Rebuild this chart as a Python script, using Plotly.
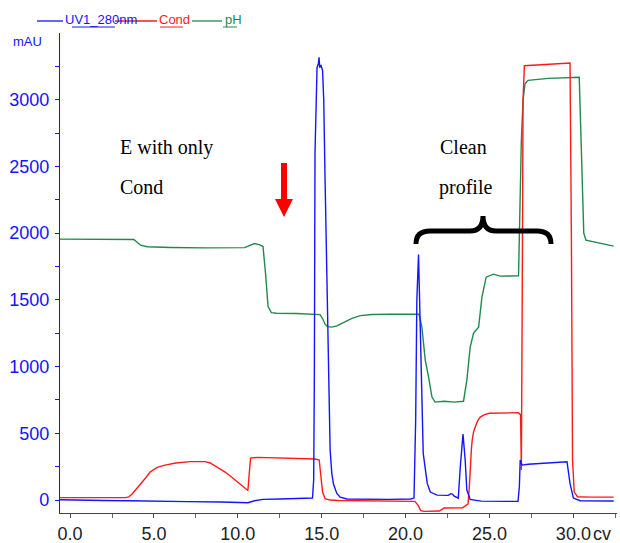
import plotly.graph_objects as go

# Column volumes (cv) and detector readings, one pair of lists per trace
uv_cv = [-0.6, 0.0, 2.0, 3.5, 5.0, 7.0, 9.0, 10.0, 10.6, 11.0, 11.5, 12.5, 13.5, 14.2,
         14.45, 14.52, 14.56, 14.60, 14.66, 14.72, 14.80, 14.84, 14.88, 14.95, 15.05,
         15.12, 15.20, 15.28, 15.38, 15.50, 15.60, 15.70, 15.90, 16.10, 16.50, 17.50,
         19.00, 20.30, 20.50, 20.60, 20.67, 20.77, 20.87, 20.99, 21.05, 21.29, 21.47,
         21.88, 22.54, 22.70, 22.78, 22.90, 23.08, 23.14, 23.26, 23.42, 23.55, 23.65,
         23.85, 24.50, 26.00, 26.70, 26.78, 26.83, 26.90, 26.95, 27.30, 28.50, 29.62,
         29.80, 30.00, 30.40, 31.50, 32.40]
uv_mau = [2, 0, -3, -5, -10, -12, -15, -18, -20, -5, 5, 8, 10, 12,
          15, 150, 900, 2600, 3100, 3240, 3270, 3318, 3240, 3260, 3220,
          3000, 2400, 1850, 1000, 380, 200, 120, 50, 22, 8, 5,
          5, 8, 15, 600, 1500, 1840, 1250, 750, 350, 125, 60,
          37, 35, 48, 45, 30, 15, 15, 250, 494, 300, 75,
          5, -8, -10, -10, 100, 300, 275, 262, 268, 278, 287,
          125, 15, -5, -7, -7]

cond_cv = [-0.6, 3.3, 3.5, 3.7, 3.9, 4.17, 4.5, 4.77, 5.0, 5.2, 5.66, 6.3, 7.16, 8.05,
           8.35, 8.6, 8.9, 9.24, 9.55, 9.84, 10.15, 10.43, 10.6, 10.68, 10.76, 11.2,
           13.0, 14.6, 14.85, 14.95, 15.05, 15.2, 15.5, 16.0, 18.0, 20.3, 20.55, 20.75,
           20.9, 21.1, 22.0, 22.3, 23.4, 23.6, 23.72, 23.8, 23.85, 23.92, 23.97, 24.05,
           24.15, 24.3, 24.45, 24.7, 25.0, 26.0, 26.72, 26.85, 26.9, 26.95, 27.0, 27.08,
           28.5, 29.8, 29.88, 29.95, 30.05, 30.25, 31.0, 32.4]
cond_val = [18, 18, 24, 45, 75, 112, 165, 210, 232, 245, 262, 278, 288, 288,
            278, 260, 238, 210, 180, 150, 118, 90, 72, 200, 315, 320,
            315, 308, 300, 200, 60, 10, 0, -3, -5, -5, -10, -40,
            -80, -85, -82, -60, -58, -40, -30, 100, 247, 380, 450, 510,
            547, 595, 622, 640, 650, 652, 655, 640, 225, 1500, 3000, 3255,
            3265, 3275, 2000, 300, 60, 25, 22, 22]

ph_cv = [-0.6, 3.8, 4.2, 4.6, 6.0, 8.0, 10.4, 10.7, 11.0, 11.3, 11.5, 11.65, 11.8,
         12.0, 12.3, 13.5, 14.6, 14.9, 15.05, 15.2, 15.35, 15.6, 15.9, 16.3, 16.8,
         17.3, 18.0, 19.0, 20.8, 20.97, 21.17, 21.37, 21.57, 21.76, 22.3, 22.9, 23.45,
         23.65, 23.85, 24.05, 24.35, 24.55, 24.8, 25.24, 25.64, 26.73, 26.8, 26.9,
         27.0, 27.12, 27.3, 28.5, 30.35, 30.5, 30.62, 30.75, 31.5, 32.4]
ph_val = [1955, 1952, 1910, 1898, 1893, 1890, 1892, 1905, 1922, 1912, 1900, 1700, 1450,
          1405, 1400, 1398, 1396, 1390, 1360, 1318, 1300, 1296, 1305, 1330, 1362,
          1382, 1390, 1392, 1393, 1296, 1049, 921, 772, 734, 740, 734, 740,
          899, 1146, 1251, 1296, 1520, 1670, 1693, 1678, 1680, 2100, 2700,
          3000, 3120, 3145, 3160, 3168, 2500, 2000, 1948, 1925, 1903]

x_ticks = [0, 5, 10, 15, 20, 25, 30]
x_labels = ["0.0", "5.0", "10.0", "15.0", "20.0", "25.0", "30.0"]
x_minor = [2.5, 7.5, 12.5, 17.5, 22.5, 27.5, 32.5]
y_ticks = [0, 500, 1000, 1500, 2000, 2500, 3000]
y_labels = ["0", "500", "1000", "1500", "2000", "2500", "3000"]
y_minor = [250, 750, 1250, 1750, 2250, 2750, 3250]

BLUE = "#1414ff"
RED = "#ff1a1a"
GREEN = "#1f8a4c"

W, H = 620, 543
ML, MR, MT, MB = 60, 3, 33, 30
PW, PH = W - ML - MR, H - MT - MB


def px(x):
    return (x - ML) / PW


def py(y):
    return (H - MB - y) / PH


fig = go.Figure()
for xs, ys, col in ((ph_cv, ph_val, GREEN), (cond_cv, cond_val, RED), (uv_cv, uv_mau, BLUE)):
    fig.add_trace(go.Scatter(x=xs, y=ys, mode="lines",
                             line=dict(color=col, width=1.4), hoverinfo="skip"))

fig.update_layout(
    width=W, height=H,
    margin=dict(l=ML, r=MR, t=MT, b=MB, autoexpand=False),
    paper_bgcolor="white", plot_bgcolor="white",
    showlegend=False,
    font=dict(family="Liberation Sans, Arial, sans-serif"),
)
fig.update_xaxes(
    range=[-0.6, 32.6], showgrid=False, zeroline=False, automargin=False,
    showline=True, linecolor="#444", linewidth=1.3,
    ticks="outside", ticklen=4, tickcolor="#444",
    tickmode="array", tickvals=x_ticks, ticktext=x_labels,
    tickfont=dict(size=18, color="#222"), ticklabelstandoff=0,
    minor=dict(tickvals=x_minor, ticks="outside", ticklen=4, tickcolor="#666"),
)
fig.update_yaxes(
    range=[-97, 3500], showgrid=False, zeroline=False, automargin=False,
    showline=True, linecolor=BLUE, linewidth=1.2,
    ticks="outside", ticklen=4, tickcolor=BLUE,
    tickmode="array", tickvals=y_ticks, ticktext=y_labels,
    tickfont=dict(size=18, color=BLUE), ticklabelstandoff=2,
    minor=dict(tickvals=y_minor, ticks="outside", ticklen=4, tickcolor=BLUE),
)

shapes = []
annotations = []

# unit suffix after the last x tick label
annotations.append(dict(xref="paper", yref="paper", x=px(591), y=py(533.5),
                        xanchor="left", yanchor="middle", showarrow=False,
                        text="cv", font=dict(size=18, color="#222")))
# y unit
annotations.append(dict(xref="paper", yref="paper", x=px(11), y=py(41),
                        xanchor="left", yanchor="middle", showarrow=False,
                        text="mAU", font=dict(size=13, color=BLUE)))

# header legend: line sample + underlined name
legend_items = [("UV1_280nm", BLUE, 37, 63, 63, (72, 115)),
                ("Cond", RED, 115, 157, 157, (160, 183)),
                ("pH", GREEN, 192, 222, 223, (223, 237))]
for name, col, x0, x1, tx, (u0, u1) in legend_items:
    annotations.append(dict(xref="paper", yref="paper", x=px(tx), y=py(19),
                            xanchor="left", yanchor="middle", showarrow=False,
                            text=name, font=dict(size=13, color=col)))
    shapes.append(dict(type="line", xref="paper", yref="paper",
                       x0=px(x0), x1=px(x1), y0=py(21), y1=py(21),
                       line=dict(color=col, width=1.3)))
    shapes.append(dict(type="line", xref="paper", yref="paper",
                       x0=px(u0), x1=px(u1), y0=py(27), y1=py(27),
                       line=dict(color=col, width=1)))

# text notes
serif = dict(family="Liberation Serif, Times New Roman, serif", size=20, color="black")
for txt, x, y in (("E with only", 118, 147), ("Cond", 118, 187),
                  ("Clean", 438, 147), ("profile", 437, 187)):
    annotations.append(dict(xref="paper", yref="paper", x=px(x), y=py(y),
                            xanchor="left", yanchor="middle", showarrow=False,
                            text=txt, font=serif))


def path(cmds):
    out = []
    for c in cmds:
        if isinstance(c, str):
            out.append(c)
        else:
            out.append(f"{px(c[0]):.5f},{py(c[1]):.5f}")
    return " ".join(out)


# red down arrow
arrow = path(["M", (281, 163), "L", (287, 163), "L", (287, 199), "L", (293, 199),
              "L", (284, 217), "L", (275, 199), "L", (281, 199), "Z"])
shapes.append(dict(type="path", xref="paper", yref="paper", path=arrow,
                   fillcolor="#ff0000", line=dict(color="#ff0000", width=0)))

# curly brace over the clean-profile region
brace = path(["M", (416, 244), "Q", (416, 231), (430, 231), "L", (470, 231),
              "Q", (483, 231), (483, 216), "Q", (483, 231), (496, 231),
              "L", (537, 231), "Q", (551, 231), (551, 244)])
shapes.append(dict(type="path", xref="paper", yref="paper", path=brace,
                   line=dict(color="black", width=5)))

fig.update_layout(shapes=shapes, annotations=annotations)
fig.write_html("out.html")
